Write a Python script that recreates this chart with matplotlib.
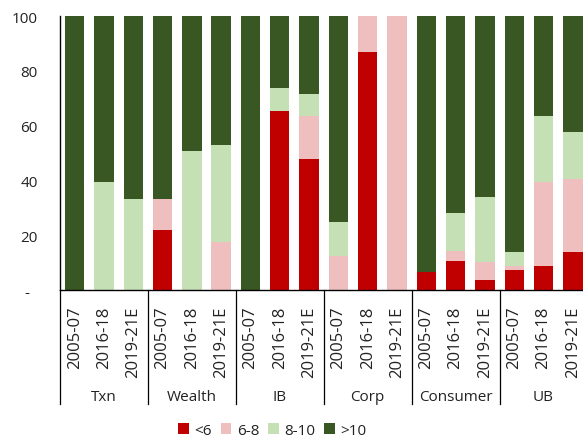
import numpy as np
import matplotlib.pyplot as plt
from matplotlib.transforms import blended_transform_factory

plt.rcParams['font.family'] = ['Open Sans', 'DejaVu Sans']

groups = ["Txn", "Wealth", "IB", "Corp", "Consumer", "UB"]
periods = ["2005-07", "2016-18", "2019-21E"]
series = ["<6", "6-8", "8-10", ">10"]
colors = ["#C00000", "#EFBFBF", "#C5E0B4", "#385723"]

# share per bucket, one value per bar (group x period)
lt6 = [0, 0, 0, 22.0, 0, 0, 0, 65.3, 47.7, 0, 86.7, 0, 6.4, 10.7, 3.6, 7.3, 8.6, 13.9]
b6_8 = [0, 0, 0, 11.3, 0, 17.4, 0, 0, 15.8, 12.5, 13.3, 100, 0, 3.6, 6.7, 1.3, 30.9, 26.5]
b8_10 = [0, 39.5, 33.3, 0, 50.6, 35.5, 0, 8.4, 8.0, 12.4, 0, 0, 0, 13.8, 23.5, 5.3, 24.0, 17.4]
gt10 = [100, 60.5, 66.7, 66.7, 49.4, 47.1, 100, 26.3, 28.5, 75.1, 0, 0, 93.6, 71.9, 66.2, 86.1, 36.5, 42.2]

data = [lt6, b6_8, b8_10, gt10]
n = len(groups) * len(periods)
x = np.arange(n)

fig = plt.figure(figsize=(5.83, 4.39), dpi=100)
ax = fig.add_axes([0.1029, 0.3371, 0.9048, 0.6241])

bottom = np.zeros(n)
for vals, col, lab in zip(data, colors, series):
    v = np.array(vals)
    ax.bar(x, v, 0.66, bottom=bottom, color=col, label=lab)
    bottom += v

ax.set_xlim(-0.5, n - 0.5)
ax.set_ylim(0, 100)
ax.set_yticks([0, 20, 40, 60, 80, 100])
ax.set_yticklabels(["-  ", "20", "40", "60", "80", "100"])
ax.tick_params(axis='y', length=0, pad=16, labelsize=11, colors='#222222')
ax.set_xticks(x)
ax.set_xticklabels(periods * len(groups), rotation=90)
ax.tick_params(axis='x', length=0, pad=11, labelsize=12, colors='#222222')
for s in ['top', 'right']:
    ax.spines[s].set_visible(False)
for s in ['left', 'bottom']:
    ax.spines[s].set_color('black')
    ax.spines[s].set_linewidth(1)

# group separators and names under the axis
tr = blended_transform_factory(ax.transData, ax.transAxes)
k = len(periods)
for i in range(len(groups) + 1):
    xb = i * k - 0.5
    ax.plot([xb, xb], [0, -0.416], transform=tr, color='black', lw=0.9, clip_on=False)
for i, g in enumerate(groups):
    ax.text(i * k + (k - 1) / 2, -0.39, g, transform=tr, ha='center', va='center',
            fontsize=11, color='#222222')

fig.legend(loc='center', bbox_to_anchor=(0.467, 0.017), ncol=4, frameon=False,
           fontsize=11, handlelength=0.7, handleheight=0.7, handletextpad=0.35,
           columnspacing=0.6, labelcolor='#222222')

fig.savefig("out.png", dpi=100)
